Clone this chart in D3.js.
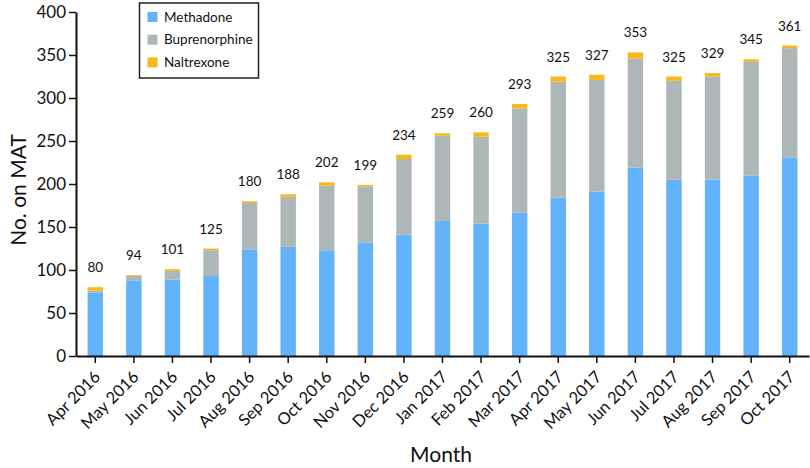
<!DOCTYPE html>
<html>
<head>
<meta charset="utf-8">
<script src="https://cdn.jsdelivr.net/npm/d3@7"></script>
<style>
body { margin: 0; background: #fff; }
text { font-family: Lato, "Open Sans", sans-serif; fill: #111; }
</style>
</head>
<body>
<svg id="chart" width="810" height="468"></svg>
<script>
const months = ["Apr 2016","May 2016","Jun 2016","Jul 2016","Aug 2016","Sep 2016","Oct 2016","Nov 2016","Dec 2016","Jan 2017","Feb 2017","Mar 2017","Apr 2017","May 2017","Jun 2017","Jul 2017","Aug 2017","Sep 2017","Oct 2017"];
const methadone     = [74, 88, 89, 93, 124, 127, 123, 132, 141, 157, 154, 167, 184, 191, 219, 205, 205, 210, 231];
const buprenorphine = [2, 5, 10, 30, 54, 58, 75, 65, 88, 99, 101, 121, 135, 130, 127, 115, 120, 132, 127];
const naltrexone    = [4, 1, 2, 2, 2, 3, 4, 2, 5, 3, 5, 5, 6, 6, 7, 5, 4, 3, 3];
const totalLabels   = [80, 94, 101, 125, 180, 188, 202, 199, 234, 259, 260, 293, 325, 327, 353, 325, 329, 345, 361];
const seriesNames   = ["Methadone", "Buprenorphine", "Naltrexone"];
const yTicks        = [0, 50, 100, 150, 200, 250, 300, 350, 400];

const colors = {Methadone: "#63b3fb", Buprenorphine: "#adb7b7", Naltrexone: "#f8b81a"};
const svg = d3.select("#chart");

const rows = months.map((m, i) => ({month: m, Methadone: methadone[i], Buprenorphine: buprenorphine[i], Naltrexone: naltrexone[i]}));
const stack = d3.stack().keys(seriesNames)(rows);

const x = d3.scaleBand().domain(months).range([76, 809]).paddingInner(0.6).paddingOuter(0.3);
const y = d3.scaleLinear().domain([0, 400]).range([356, 12]);

svg.append("g").selectAll("g").data(stack).join("g")
  .attr("fill", d => colors[d.key])
  .selectAll("rect").data(d => d).join("rect")
  .attr("x", d => x(d.data.month))
  .attr("width", x.bandwidth())
  .attr("y", d => y(d[1]))
  .attr("height", d => y(d[0]) - y(d[1]));

// value labels
svg.append("g").selectAll("text").data(months).join("text")
  .attr("x", m => x(m) + x.bandwidth() / 2)
  .attr("y", (m, i) => y(totalLabels[i]) - 15)
  .attr("text-anchor", "middle")
  .attr("font-size", 13.5)
  .text((m, i) => totalLabels[i]);

// y axis
const yAxis = svg.append("g").attr("transform", "translate(76,0)")
  .call(d3.axisLeft(y).tickValues(yTicks).tickSize(7).tickSizeOuter(0));
yAxis.select(".domain").attr("stroke", "#111").attr("stroke-width", 2);
yAxis.selectAll(".tick line").attr("stroke", "#111").attr("stroke-width", 1.5);
yAxis.selectAll(".tick text").attr("font-size", 17).attr("x", -10).attr("dy", "0.35em")
  .style("font-family", "Lato, sans-serif");

// x axis
const xAxis = svg.append("g").attr("transform", "translate(0,356)")
  .call(d3.axisBottom(x).tickSize(7).tickSizeOuter(0));
xAxis.select(".domain").attr("stroke", "#111").attr("stroke-width", 2);
xAxis.selectAll(".tick line").attr("stroke", "#111").attr("stroke-width", 1.5);
xAxis.selectAll(".tick text")
  .attr("font-size", 16.5)
  .attr("text-anchor", "end")
  .attr("dy", 0)
  .attr("y", 0)
  .attr("transform", "translate(6,22) rotate(-45)")
  .style("font-family", "Lato, sans-serif");

// axis titles
svg.append("text")
  .attr("transform", "translate(26,190) rotate(-90)")
  .attr("text-anchor", "middle")
  .attr("font-size", 21)
  .text("No. on MAT");
svg.append("text")
  .attr("x", 441).attr("y", 462)
  .attr("text-anchor", "middle")
  .attr("font-size", 21)
  .text("Month");

// legend
const lg = svg.append("g");
lg.append("rect").attr("x", 139.5).attr("y", 3).attr("width", 119).attr("height", 75)
  .attr("fill", "#fff").attr("stroke", "#222").attr("stroke-width", 1.5);
seriesNames.forEach((s, i) => {
  const cy = 17 + i * 22.7;
  lg.append("rect").attr("x", 147.5).attr("y", cy - 5).attr("width", 10).attr("height", 10).attr("fill", colors[s]);
  lg.append("text").attr("x", 164).attr("y", cy).attr("dy", "0.35em").attr("font-size", 13.5).text(s);
});
</script>
</body>
</html>
